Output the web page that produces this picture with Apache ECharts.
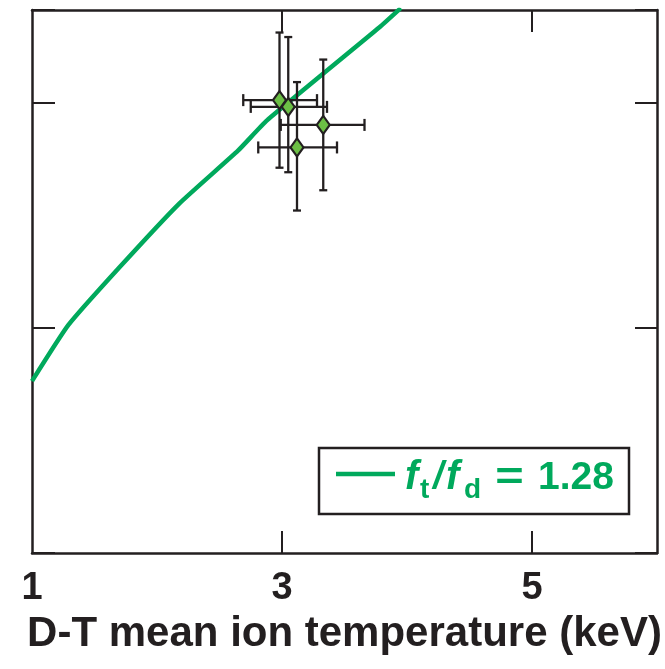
<!DOCTYPE html>
<html>
<head>
<meta charset="utf-8">
<script src="https://cdn.jsdelivr.net/npm/echarts@6/dist/echarts.min.js"></script>
<style>
  html, body { margin: 0; padding: 0; background: #ffffff; }
  #chart { width: 665px; height: 669px; }
</style>
</head>
<body>
<div id="chart"></div>
<script>
// Model curve: yield vs. D-T mean ion temperature for f_t/f_d = 1.28
const curveTemp  = [1.00, 1.29, 1.70, 2.18, 2.65, 2.88, 3.78, 3.93, 3.95];
const curveYield = [0.763, 1.011, 1.268, 1.552, 1.787, 1.920, 2.333, 2.408, 2.419];

// Measured shots with error bars
const shotTemp     = [2.98, 3.05, 3.33, 3.12];
const shotYield    = [2.01, 1.98, 1.90, 1.80];
const shotTempLow  = [2.69, 2.75, 2.99, 2.81];
const shotTempHigh = [3.28, 3.36, 3.66, 3.44];
const shotYieldLow  = [1.71, 1.69, 1.61, 1.52];
const shotYieldHigh = [2.31, 2.29, 2.19, 2.09];

// Axis ticks and labels
const xTickValues  = [3, 5];
const xLabelValues = [1, 3, 5];
const xAxisTitle = 'D-T mean ion temperature (keV)';
const ratioValue = '1.28';

const GREEN = '#00a95c';
const DARK = '#231f20';
const FONT = '"Liberation Sans", Arial, sans-serif';

const curveData = curveTemp.map((t, i) => [t, curveYield[i]]);
const shotData = shotTemp.map((t, i) => [t, shotYield[i]]);
const errData = shotTemp.map((t, i) => [
  t, shotYield[i], shotTempLow[i], shotTempHigh[i], shotYieldLow[i], shotYieldHigh[i]
]);

const chart = echarts.init(document.getElementById('chart'), null, { renderer: 'canvas' });

const frameLine = { show: true, onZero: false, lineStyle: { color: DARK, width: 2.5 } };

chart.setOption({
  animation: false,
  backgroundColor: '#ffffff',
  grid: { left: 32, right: 8, top: 10, bottom: 116, containLabel: false },
  xAxis: [
    {
      type: 'value', position: 'bottom', min: 1, max: 6,
      axisLine: frameLine,
      axisTick: { show: true, inside: true, length: 22, customValues: xTickValues,
                  lineStyle: { color: DARK, width: 2 } },
      axisLabel: { show: true, customValues: xLabelValues, margin: 17,
                   fontFamily: FONT, fontWeight: 'bold', fontSize: 38, color: DARK },
      splitLine: { show: false },
      name: xAxisTitle, nameLocation: 'middle', nameGap: 60,
      nameTextStyle: { fontFamily: FONT, fontWeight: 'bold', fontSize: 42, color: DARK }
    },
    {
      type: 'value', position: 'top', min: 1, max: 6,
      axisLine: frameLine,
      axisTick: { show: true, inside: true, length: 22, customValues: xTickValues,
                  lineStyle: { color: DARK, width: 2 } },
      axisLabel: { show: false },
      splitLine: { show: false }
    }
  ],
  yAxis: [
    {
      type: 'value', position: 'left', min: 0, max: 2.41, interval: 1,
      axisLine: frameLine,
      axisTick: { show: true, inside: true, length: 23, lineStyle: { color: DARK, width: 2 } },
      axisLabel: { show: false },
      splitLine: { show: false }
    },
    {
      type: 'value', position: 'right', min: 0, max: 2.41, interval: 1,
      axisLine: frameLine,
      axisTick: { show: true, inside: true, length: 22, lineStyle: { color: DARK, width: 2 } },
      axisLabel: { show: false },
      splitLine: { show: false }
    }
  ],
  series: [
    {
      type: 'line',
      data: curveData,
      xAxisIndex: 0, yAxisIndex: 0,
      showSymbol: false,
      clip: true,
      smooth: 0.15,
      lineStyle: { color: GREEN, width: 4.5 },
      z: 2
    },
    {
      type: 'custom',
      xAxisIndex: 0, yAxisIndex: 0,
      data: errData,
      clip: false,
      z: 3,
      renderItem: function (params, api) {
        const c  = api.coord([api.value(0), api.value(1)]);
        const xl = api.coord([api.value(2), api.value(1)]);
        const xh = api.coord([api.value(3), api.value(1)]);
        const yl = api.coord([api.value(0), api.value(4)]);
        const yh = api.coord([api.value(0), api.value(5)]);
        const st = { stroke: DARK, lineWidth: 2.3 };
        const vCap = 4, hCap = 6;
        const seg = (x1, y1, x2, y2) => ({ type: 'line', shape: { x1, y1, x2, y2 }, style: st });
        return {
          type: 'group',
          children: [
            seg(c[0], yh[1], c[0], yl[1]),
            seg(xl[0], c[1], xh[0], c[1]),
            seg(c[0] - vCap, yh[1], c[0] + vCap, yh[1]),
            seg(c[0] - vCap, yl[1], c[0] + vCap, yl[1]),
            seg(xl[0], c[1] - hCap, xl[0], c[1] + hCap),
            seg(xh[0], c[1] - hCap, xh[0], c[1] + hCap)
          ]
        };
      }
    },
    {
      type: 'scatter',
      xAxisIndex: 0, yAxisIndex: 0,
      data: shotData,
      symbol: 'diamond',
      symbolSize: [13, 18],
      itemStyle: { color: '#6cbf45', borderColor: DARK, borderWidth: 2.2, opacity: 1 },
      z: 4
    }
  ],
  graphic: [
    {
      type: 'group',
      z: 10,
      children: [
        { type: 'rect', shape: { x: 319, y: 448, width: 310, height: 66 },
          style: { fill: '#ffffff', stroke: DARK, lineWidth: 2.5 } },
        { type: 'line', shape: { x1: 336, y1: 474, x2: 395, y2: 474 },
          style: { stroke: GREEN, lineWidth: 4.5 } },
        { type: 'text', x: 405, y: 478,
          style: { text: 'f', fill: GREEN, font: 'italic bold 40px ' + FONT,
                   textAlign: 'left', textVerticalAlign: 'middle' } },
        { type: 'text', x: 420, y: 490,
          style: { text: 't', fill: GREEN, font: 'bold 28px ' + FONT,
                   textAlign: 'left', textVerticalAlign: 'middle' } },
        { type: 'text', x: 433, y: 478,
          style: { text: '/', fill: GREEN, font: 'italic bold 38px ' + FONT,
                   textAlign: 'left', textVerticalAlign: 'middle' } },
        { type: 'text', x: 446, y: 478,
          style: { text: 'f', fill: GREEN, font: 'italic bold 40px ' + FONT,
                   textAlign: 'left', textVerticalAlign: 'middle' } },
        { type: 'text', x: 464, y: 490,
          style: { text: 'd', fill: GREEN, font: 'bold 28px ' + FONT,
                   textAlign: 'left', textVerticalAlign: 'middle' } },
        { type: 'text', x: 509.5, y: 478, scaleX: 1.25,
          style: { text: '=', fill: GREEN, font: 'bold 39px ' + FONT,
                   textAlign: 'center', textVerticalAlign: 'middle' } },
        { type: 'text', x: 614, y: 478,
          style: { text: ratioValue, fill: GREEN, font: 'bold 39px ' + FONT,
                   textAlign: 'right', textVerticalAlign: 'middle' } }
      ]
    }
  ]
});
</script>
</body>
</html>
